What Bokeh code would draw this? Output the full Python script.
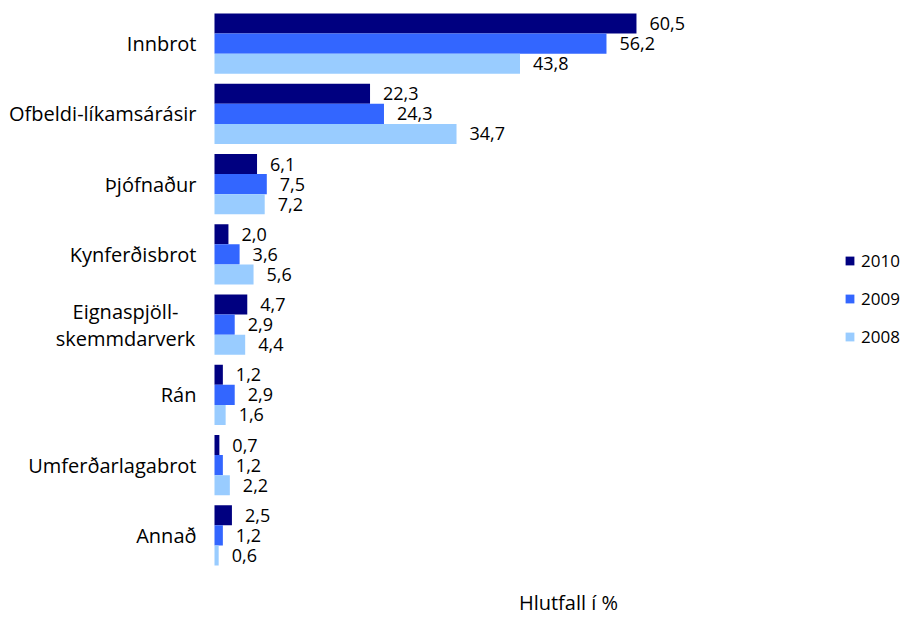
from bokeh.plotting import figure
from bokeh.models import ColumnDataSource, Range1d, FactorRange, Legend, LegendItem, FixedTicker
from bokeh.transform import dodge
from bokeh.core.properties import value
from bokeh.embed import file_html
from bokeh.resources import INLINE

categories = ["Innbrot", "Ofbeldi-líkamsárásir", "Þjófnaður", "Kynferðisbrot",
              "Eignaspjöll-skemmdarverk", "Rán", "Umferðarlagabrot", "Annað"]
cat_lines = [["Innbrot"], ["Ofbeldi-líkamsárásir"], ["Þjófnaður"], ["Kynferðisbrot"],
             ["Eignaspjöll-", "skemmdarverk"], ["Rán"], ["Umferðarlagabrot"], ["Annað"]]
v2010 = [60.5, 22.3, 6.1, 2.0, 4.7, 1.2, 0.7, 2.5]
v2009 = [56.2, 24.3, 7.5, 3.6, 2.9, 2.9, 1.2, 1.2]
v2008 = [43.8, 34.7, 7.2, 5.6, 4.4, 1.6, 2.2, 0.6]
years = ["2010", "2009", "2008"]
colors = ["#000080", "#3366FF", "#99CCFF"]
x_title = "Hlutfall í %"
x_title_at = 50.75   # where the axis title sits along the value axis

FONT = "Open Sans"
FS = "18px"
CFS = "20px"

def fmt(v):
    return ("%.1f" % v).replace(".", ",")

src = ColumnDataSource(dict(
    cat=categories,
    v2010=v2010, v2009=v2009, v2008=v2008,
    t2010=[fmt(v) for v in v2010], t2009=[fmt(v) for v in v2009], t2008=[fmt(v) for v in v2008],
))

p = figure(width=915, height=618, output_backend="svg", toolbar_location=None,
           y_range=FactorRange(*categories[::-1], range_padding=0),
           x_range=Range1d(-30.68, 99.07),
           min_border_left=0, min_border_right=10, min_border_top=8, min_border_bottom=48)
p.outline_line_color = None
p.grid.visible = False
p.yaxis.visible = False

xa = p.xaxis[0]
xa.ticker = FixedTicker(ticks=[x_title_at])
xa.major_label_overrides = {x_title_at: x_title}
xa.axis_line_color = None
xa.major_tick_line_color = None
xa.minor_tick_line_color = None
xa.major_tick_out = 0
xa.major_tick_in = 0
xa.major_label_standoff = 18
xa.major_label_text_font = FONT
xa.major_label_text_font_size = CFS
xa.major_label_text_color = "#000000"

bh = 0.285
offs = [bh, 0.0, -bh]
renderers = []
for yr, col, off in zip(years, colors, offs):
    r = p.hbar(y=dodge("cat", off, range=p.y_range), left=0, right="v" + yr, height=bh,
               source=src, fill_color=col, line_color=None)
    renderers.append(r)
    p.text(x="v" + yr, y=dodge("cat", off, range=p.y_range), text="t" + yr, source=src,
           x_offset=13, text_align="left", text_baseline="middle",
           text_font=value(FONT), text_font_size=FS, text_color="#000000")

# single-line category labels
s_cat = [c for c, l in zip(categories, cat_lines) if len(l) == 1]
s_txt = [l[0] for l in cat_lines if len(l) == 1]
single = ColumnDataSource(dict(cat=s_cat, label=s_txt, x=[0] * len(s_cat)))
p.text(x="x", y="cat", text="label", source=single, x_offset=-18,
       text_align="right", text_baseline="middle",
       text_font=value(FONT), text_font_size=CFS, text_color="#000000")

# two-line category label (centred lines)
m_cat, m_txt, m_off = [], [], []
for c, l in zip(categories, cat_lines):
    if len(l) == 2:
        m_cat += [c, c]
        m_txt += l
        m_off += [-13, 14]
multi = ColumnDataSource(dict(cat=m_cat, label=m_txt, x=[0] * len(m_cat), yo=m_off))
p.text(x="x", y="cat", text="label", source=multi, x_offset=-89, y_offset="yo",
       text_align="center", text_baseline="middle",
       text_font=value(FONT), text_font_size=CFS, text_color="#000000")

legend = Legend(items=[LegendItem(label=yr, renderers=[r]) for yr, r in zip(years, renderers)],
                location=(844, 222), orientation="vertical",
                padding=0, margin=0, spacing=15, label_height=22,
                glyph_width=11, glyph_height=11, label_standoff=6,
                label_text_font=FONT, label_text_font_size="17px", label_text_color="#000000",
                background_fill_alpha=0, border_line_alpha=0)
p.add_layout(legend)

with open("out.html", "w") as f:
    f.write(file_html(p, INLINE))
